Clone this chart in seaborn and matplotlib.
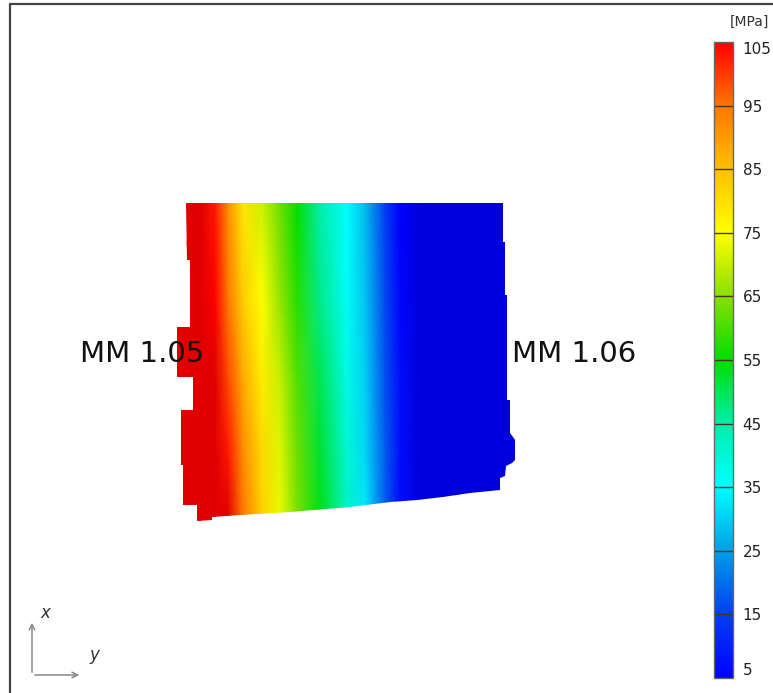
import numpy as np
import seaborn as sns
import matplotlib.pyplot as plt
from matplotlib.colors import Normalize
from matplotlib.patches import Polygon
from matplotlib.lines import Line2D
import matplotlib.cm as cm

sns.set_style("white")
plt.rcParams['font.family'] = ['DejaVu Sans']

# stations across the plate (horizontal "y" direction, plate units)
stations_y = [0, 23, 38, 51, 66, 85, 103, 120, 143, 170, 188, 208, 223, 243, 343]
# rows along the plate (vertical "x" direction, bottom to top)
rows_x = [0, 71, 141, 221, 318]

# stress [MPa] read at each station, one list per row
stress_row0 = [110, 110, 110, 106, 95, 82, 73, 64, 54, 42, 33, 18, 7, 0, 0]
stress_row1 = [110, 110, 110, 103, 92, 81, 72, 63, 52, 40, 31, 18, 7, 0, 0]
stress_row2 = [110, 110, 108, 99, 88, 78, 70, 61, 50, 38, 30, 17, 7, 0, 0]
stress_row3 = [110, 110, 105, 95, 83, 75, 66, 58, 47, 36, 29, 16, 6, 0, 0]
stress_row4 = [110, 110, 103, 92, 79, 71, 63, 55, 45, 35, 28, 15, 5, 0, 0]

# outline of the measured region (y, x)
outline_y = [9, 326, 326, 328, 328, 330, 330, 333, 333, 336, 338, 338, 335, 329, 328,
             323, 323, 293, 266, 240, 213, 173, 113, 63, 35, 35, 20, 20, 6, 6, 4, 4,
             16, 16, 0, 0, 13, 13, 10]
outline_x = [318, 318, 279, 279, 226, 226, 121, 121, 88, 84, 81, 61, 58, 55, 45,
             43, 31, 28, 24, 21, 19, 14, 9, 6, 4, 1, 0, 16, 16, 56, 56, 111,
             111, 144, 144, 194, 194, 261, 261]

cbar_ticks = [5, 15, 25, 35, 45, 55, 65, 75, 85, 95, 105]
cbar_colors = ["#0000ff", "#0040f0", "#00a0e8", "#00ffff", "#00eeaa", "#00dd00",
               "#88e000", "#ffff00", "#ffc000", "#ff7800", "#ff0000"]

cmap = sns.blend_palette(cbar_colors, as_cmap=True)
cmap.set_under("#0000dc")
cmap.set_over("#e00000")
norm = Normalize(vmin=5, vmax=105)

fig = plt.figure(figsize=(7.73, 6.93), dpi=100)
ax = fig.add_axes([0, 0, 1, 1])
ax.set_xlim(-177, 596)
ax.set_ylim(-172, 521)
ax.axis("off")

Y, X = np.meshgrid(stations_y, rows_x)
Z = np.array([stress_row0, stress_row1, stress_row2, stress_row3, stress_row4], dtype=float)
mesh = ax.pcolormesh(Y, X, Z, shading="gouraud", cmap=cmap, norm=norm)
shape = Polygon(np.column_stack([outline_y, outline_x]), closed=True,
                fill=False, edgecolor="none")
ax.add_patch(shape)
mesh.set_clip_path(shape)

# section labels
ax.text(-97, 167, "MM 1.05", fontsize=21, va="center", ha="left", color="#111111", zorder=5)
ax.text(335, 167, "MM 1.06", fontsize=21, va="center", ha="left", color="#111111", zorder=5)

# orientation triad
ax.annotate("", xy=(-145, -99), xytext=(-145, -154),
            arrowprops=dict(arrowstyle="->", color="#888888", lw=1.1))
ax.annotate("", xy=(-95, -154), xytext=(-145, -154),
            arrowprops=dict(arrowstyle="->", color="#888888", lw=1.1))
ax.text(-137, -92, "x", fontsize=12, style="italic", color="#333333", va="center")
ax.text(-88, -134, "y", fontsize=12, style="italic", color="#333333", va="center")

# colorbar
cax = fig.add_axes([714 / 773, 15 / 693, 19 / 773, 636 / 693])
sm = cm.ScalarMappable(norm=norm, cmap=cmap)
cb = fig.colorbar(sm, cax=cax, ticks=cbar_ticks)
cb.outline.set_edgecolor("#666666")
cb.outline.set_linewidth(1.0)
cax.tick_params(length=0, pad=7, labelsize=11, labelcolor="#222222")
labels = cax.get_yticklabels()
labels[0].set_va("bottom")
labels[-1].set_va("top")
for t in cbar_ticks[1:-1]:
    cax.axhline(t, color="#4a3020", lw=1.0)
fig.text(749 / 773, 1 - 22 / 693, "[MPa]", fontsize=10, ha="center", va="center",
         color="#333333")

# frame of the original screenshot
fig.add_artist(Line2D([10 / 773, 10 / 773], [0, 1 - 4 / 693], color="#444444", lw=1.6))
fig.add_artist(Line2D([10 / 773, 1], [1 - 4 / 693, 1 - 4 / 693], color="#444444", lw=1.6))

fig.savefig("out.png", dpi=100)
